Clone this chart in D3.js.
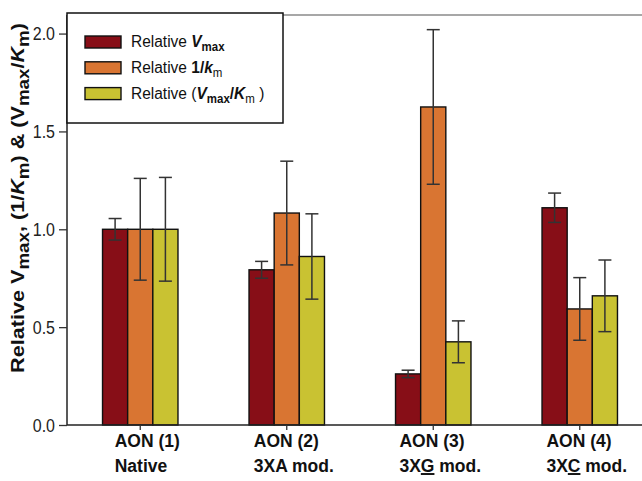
<!DOCTYPE html>
<html>
<head>
<meta charset="utf-8">
<script src="https://cdn.jsdelivr.net/npm/d3@7"></script>
<style>
  body { margin: 0; background: #fff; }
  text { font-family: "Liberation Sans", Arial, sans-serif; }
</style>
</head>
<body>
<div id="chart"></div>
<script>
// Data
const groups = ["AON (1)", "AON (2)", "AON (3)", "AON (4)"];
const subLabels = [
  [{ t: "Native" }],
  [{ t: "3XA mod." }],
  [{ t: "3X" }, { t: "G", u: true }, { t: " mod." }],
  [{ t: "3X" }, { t: "C", u: true }, { t: " mod." }]
];
const series = ["vmax", "invKm", "ratio"];
const vmax = [1.0, 0.793, 0.261, 1.11];
const vmaxErr = [0.055, 0.043, 0.019, 0.075];
const invKm = [1.0, 1.083, 1.625, 0.593];
const invKmErr = [0.26, 0.265, 0.395, 0.16];
const ratio = [1.0, 0.861, 0.425, 0.66];
const ratioErr = [0.265, 0.218, 0.107, 0.183];
const yTicks = [0, 0.5, 1.0, 1.5, 2.0];

const colors = { vmax: "#870e17", invKm: "#d97532", ratio: "#c9c232" };
const values = { vmax: vmax, invKm: invKm, ratio: ratio };
const errors = { vmax: vmaxErr, invKm: invKmErr, ratio: ratioErr };

const W = 642, H = 481;
const plotLeft = 67, plotBottom = 425, plotTop = 15;

var svg = d3.select("#chart")
  .append("svg")
  .attr("width", W)
  .attr("height", H);

// scales
var x0 = d3.scaleBand()
  .domain(groups)
  .range([plotLeft, 653])
  .paddingInner(0.485)
  .paddingOuter(0.2425);

var x1 = d3.scaleBand()
  .domain(series)
  .range([0, x0.bandwidth()]);

var y = d3.scaleLinear()
  .domain([0, 2.1])
  .range([plotBottom, 14]);

// top frame line
svg.append("line")
  .attr("x1", plotLeft).attr("x2", W)
  .attr("y1", plotTop).attr("y2", plotTop)
  .attr("stroke", "#8a8a8a")
  .attr("stroke-width", 1.5);

// bars
var rows = [];
groups.forEach(function (g, i) {
  series.forEach(function (s) {
    rows.push({ g: g, s: s, v: values[s][i], e: errors[s][i] });
  });
});

svg.append("g")
  .selectAll("rect")
  .data(rows)
  .join("rect")
  .attr("x", d => x0(d.g) + x1(d.s))
  .attr("y", d => y(d.v))
  .attr("width", x1.bandwidth())
  .attr("height", d => y(0) - y(d.v))
  .attr("fill", d => colors[d.s])
  .attr("stroke", "#111")
  .attr("stroke-width", 1.4);

// error bars
var capW = 13;
var eb = svg.append("g")
  .attr("stroke", "#333")
  .attr("stroke-width", 1.5)
  .selectAll("g")
  .data(rows)
  .join("g")
  .attr("transform", d => `translate(${x0(d.g) + x1(d.s) + x1.bandwidth() / 2},0)`);

eb.append("line")
  .attr("y1", d => y(d.v - d.e))
  .attr("y2", d => y(d.v + d.e));
eb.append("line")
  .attr("x1", -capW / 2).attr("x2", capW / 2)
  .attr("y1", d => y(d.v + d.e)).attr("y2", d => y(d.v + d.e));
eb.append("line")
  .attr("x1", -capW / 2).attr("x2", capW / 2)
  .attr("y1", d => y(d.v - d.e)).attr("y2", d => y(d.v - d.e));

// y axis
var yAxis = svg.append("g")
  .attr("transform", `translate(${plotLeft},0)`)
  .call(d3.axisLeft(y).tickValues(yTicks).tickFormat(d3.format(".1f")).tickSize(8).tickSizeOuter(0));
yAxis.select(".domain").attr("stroke", "#222").attr("stroke-width", 1.5)
  .attr("d", `M0,${plotBottom}V${plotTop}`);
yAxis.selectAll(".tick line").attr("stroke", "#333").attr("stroke-width", 1.3);
yAxis.selectAll(".tick text")
  .attr("font-size", 16)
  .attr("fill", "#222")
  .attr("x", -12)
  .attr("dy", null)
  .attr("y", 0)
  .attr("transform", "translate(0,6) scale(1,1.1)");

// x axis
var xAxis = svg.append("g")
  .attr("transform", `translate(0,${plotBottom})`)
  .call(d3.axisBottom(x0).tickSize(5).tickSizeOuter(0).tickFormat(""));
xAxis.select(".domain").attr("stroke", "#222").attr("stroke-width", 1.5)
  .attr("d", `M${plotLeft},0H${W}`);
xAxis.selectAll(".tick line").attr("stroke", "#333").attr("stroke-width", 1.3);

// x labels (two lines, left aligned block)
groups.forEach(function (g, i) {
  var lab = svg.append("g");
  var t1 = lab.append("text")
    .attr("font-size", 17.5).attr("font-weight", "bold").attr("fill", "#111")
    .attr("transform", "translate(0,447) scale(1,1.1)")
    .text(g);
  var t2 = lab.append("text")
    .attr("font-size", 17.5).attr("font-weight", "bold").attr("fill", "#111")
    .attr("transform", "translate(0,472) scale(1,1.1)");
  subLabels[i].forEach(function (p) {
    t2.append("tspan").text(p.t)
      .style("text-decoration", p.u ? "underline" : null);
  });
  var w = Math.max(t1.node().getComputedTextLength(), t2.node().getComputedTextLength());
  var cx = x0(g) + x0.bandwidth() / 2;
  lab.attr("transform", `translate(${cx - w / 2 + 7},0)`);
});

// y axis title
var yt = svg.append("text")
  .attr("transform", "translate(24,198) rotate(-90) scale(1.17,1)")
  .attr("text-anchor", "middle")
  .attr("font-size", 18.5)
  .attr("font-weight", "bold")
  .attr("fill", "#111");
yt.append("tspan").text("Relative V");
yt.append("tspan").attr("font-size", 16).attr("dy", 5).text("max");
yt.append("tspan").attr("dy", -5).text(", (1/");
yt.append("tspan").attr("font-style", "italic").text("K");
yt.append("tspan").attr("font-size", 16).attr("dy", 5).text("m");
yt.append("tspan").attr("dy", -5).text(") & (V");
yt.append("tspan").attr("font-size", 16).attr("dy", 5).text("max");
yt.append("tspan").attr("dy", -5).text("/");
yt.append("tspan").attr("font-style", "italic").text("K");
yt.append("tspan").attr("font-size", 16).attr("dy", 5).text("m");
yt.append("tspan").attr("dy", -5).text(")");

// legend
var legend = svg.append("g");
legend.append("rect")
  .attr("x", 67).attr("y", 13)
  .attr("width", 216).attr("height", 110)
  .attr("fill", "#fff")
  .attr("stroke", "#111")
  .attr("stroke-width", 1.5);

var legendRows = [
  [{ t: "Relative " }, { t: "V", b: true, i: true }, { t: "max", b: true, sub: true }],
  [{ t: "Relative " }, { t: "1/", b: true }, { t: "k", b: true, i: true }, { t: "m", sub: true }],
  [{ t: "Relative (" }, { t: "V", b: true, i: true }, { t: "max", b: true, sub: true },
   { t: "/", b: true }, { t: "K", b: true, i: true }, { t: "m", sub: true }, { t: " )" }]
];

series.forEach(function (s, i) {
  var cy = 42 + i * 25.8;
  legend.append("rect")
    .attr("x", 85).attr("y", cy - 6)
    .attr("width", 36).attr("height", 12)
    .attr("fill", colors[s])
    .attr("stroke", "#111")
    .attr("stroke-width", 1.4);
  var t = legend.append("text")
    .attr("transform", `translate(131,${cy + 5}) scale(1,1.1)`)
    .attr("font-size", 15.5)
    .attr("fill", "#111");
  var shifted = false;
  legendRows[i].forEach(function (p) {
    var sp = t.append("tspan").text(p.t);
    if (p.b) sp.attr("font-weight", "bold");
    if (p.i) sp.attr("font-style", "italic");
    if (p.sub && !shifted) { sp.attr("font-size", 11.5).attr("dy", 4); shifted = true; }
    else if (p.sub) sp.attr("font-size", 11.5);
    else if (shifted) { sp.attr("dy", -4); shifted = false; }
  });
});
</script>
</body>
</html>
